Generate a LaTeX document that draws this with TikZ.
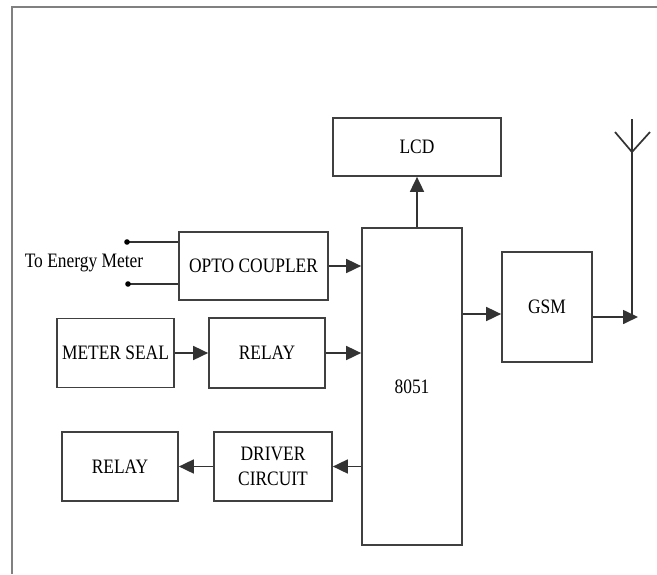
\documentclass[tikz,border=0pt]{standalone}
\usepackage{fontspec}
\setmainfont[FakeStretch=0.85]{Liberation Serif}
\usetikzlibrary{arrows.meta}
\begin{document}
\begin{tikzpicture}[x=1pt,y=-1pt,
  blk/.style={draw=black!75, line width=1.7pt, rectangle, inner sep=0pt, align=center,
              font=\fontsize{20.5pt}{25pt}\selectfont},
  arr/.style={draw=black!80, line width=1.7pt, -{Triangle[length=15pt,width=14pt]}},
  wire/.style={draw=black!80, line width=1.7pt},
  lbl/.style={inner sep=0pt, font=\fontsize{20.5pt}{25pt}\selectfont}]
\useasboundingbox (0,0) rectangle (657,574);
\draw[draw=black!50, line width=2pt] (657,7) -- (12,7) -- (12,574);

\node[blk, minimum width=149pt, minimum height=68pt] (opto) at (253.5,266) {OPTO COUPLER};
\node[blk, minimum width=117pt, minimum height=69pt] (seal) at (115.5,353) {METER SEAL};
\node[blk, minimum width=116pt, minimum height=70pt] (relayA) at (267,353) {RELAY};
\node[blk, minimum width=168pt, minimum height=58pt] (lcd) at (417,147) {LCD};
\node[blk, minimum width=100pt, minimum height=317pt] (mcu) at (412,386.5) {8051};
\node[blk, minimum width=90pt, minimum height=110pt] (gsm) at (547,307) {GSM};
\node[blk, minimum width=116pt, minimum height=69pt] (relayB) at (120,466.5) {RELAY};
\node[blk, minimum width=118pt, minimum height=69pt] (driver) at (273,466.5) {DRIVER\\CIRCUIT};

\node[lbl] (tem) at (84,263) {To Energy Meter};
\coordinate (t1) at (127,242);
\coordinate (t2) at (128,284);
\draw[wire] (t1) -- (opto.west |- t1);
\draw[wire] (t2) -- (opto.west |- t2);
\fill[black] (t1) circle (2.8pt);
\fill[black] (t2) circle (2.8pt);

\draw[arr] (opto.east) -- (opto.east -| mcu.west);
\draw[arr] (seal.east) -- (relayA.west);
\draw[arr] (relayA.east) -- (relayA.east -| mcu.west);
\draw[arr] (driver.east -| mcu.west) -- (driver.east);
\draw[arr] (driver.west) -- (relayB.east);
\draw[arr] (lcd.south |- mcu.north) -- (lcd.south);

\coordinate (g1) at (0,314);
\draw[arr] (mcu.east |- g1) -- (gsm.west |- g1);

\coordinate (ant) at (632,317);
\coordinate (anttop) at (632,119);
\coordinate (antfork) at (632,152);
\coordinate (antl) at (615,132);
\coordinate (antr) at (650,132);
\draw[wire] (anttop) -- (ant);
\draw[wire] (antl) -- (antfork) -- (antr);
\coordinate (anttip) at (638,317);
\draw[arr] (gsm.east |- ant) -- (anttip);
\end{tikzpicture}
\end{document}
